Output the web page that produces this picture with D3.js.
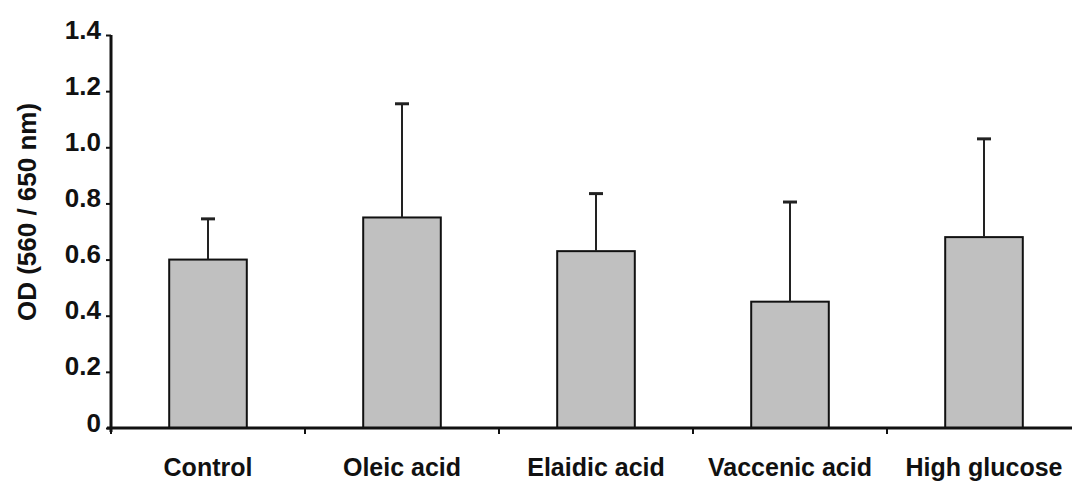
<!DOCTYPE html>
<html>
<head>
<meta charset="utf-8">
<script src="https://cdn.jsdelivr.net/npm/d3@7"></script>
<style>
  body { margin: 0; background: #fff; }
  text { font-family: "Liberation Sans", Arial, sans-serif; font-weight: bold; fill: #111; }
</style>
</head>
<body>
<div id="chart"></div>
<script>
// data
const groups = ["Control", "Oleic acid", "Elaidic acid", "Vaccenic acid", "High glucose"];
const means = [0.60, 0.75, 0.63, 0.45, 0.68];
const errors = [0.145, 0.405, 0.205, 0.355, 0.35];
const yTicks = [0, 0.2, 0.4, 0.6, 0.8, 1.0, 1.2, 1.4];
const yTickLabels = ["0", "0.2", "0.4", "0.6", "0.8", "1.0", "1.2", "1.4"];

const width = 1072, height = 486;
const x0 = 111, yBase = 428, yTop = 35;
const step = 194;

let svg = d3.select("#chart")
    .append("svg")
    .attr("width", width)
    .attr("height", height);

let x = d3.scaleBand()
    .domain(groups)
    .range([x0, x0 + step * groups.length])
    .paddingInner(0.6)
    .paddingOuter(0.3);

let y = d3.scaleLinear()
    .domain([0, 1.4])
    .range([yBase, yTop]);

// bars
svg.selectAll("rect.bar")
    .data(groups)
    .enter()
    .append("rect")
    .attr("class", "bar")
    .attr("x", d => x(d))
    .attr("y", (d, i) => y(means[i]))
    .attr("width", x.bandwidth())
    .attr("height", (d, i) => y(0) - y(means[i]))
    .attr("fill", "#c0c0c0")
    .attr("stroke", "#111")
    .attr("stroke-width", 2);

// error bars (upper only)
let err = svg.append("g").attr("stroke", "#222").attr("stroke-width", 2);
groups.forEach(function(g, i) {
    let cx = x(g) + x.bandwidth() / 2;
    err.append("line")
        .attr("x1", cx).attr("x2", cx)
        .attr("y1", y(means[i])).attr("y2", y(means[i] + errors[i]));
    err.append("line")
        .attr("x1", cx - 7).attr("x2", cx + 7)
        .attr("y1", y(means[i] + errors[i])).attr("y2", y(means[i] + errors[i]))
        .attr("stroke-width", 3);
});

// y axis
let yAxis = svg.append("g")
    .attr("transform", `translate(${x0}, 0)`)
    .call(d3.axisLeft(y).tickValues(yTicks).tickSize(5).tickPadding(5)
        .tickFormat((d, i) => yTickLabels[i]));
yAxis.select(".domain").attr("stroke", "#111").attr("stroke-width", 3)
    .attr("d", `M0,${yTop}V${yBase + 4}`);
yAxis.selectAll(".tick line").attr("stroke", "#111").attr("stroke-width", 2);
yAxis.selectAll(".tick text")
    .attr("font-size", 26)
    .attr("font-family", null)
    .attr("dy", "0.12em");

// x axis: ticks sit between the groups
let xAxis = svg.append("g")
    .attr("transform", `translate(0, ${yBase})`);
xAxis.append("line")
    .attr("x1", x0 - 4).attr("x2", width)
    .attr("stroke", "#111").attr("stroke-width", 3);
xAxis.selectAll("line.tick")
    .data(d3.range(groups.length))
    .enter()
    .append("line")
    .attr("class", "tick")
    .attr("x1", i => x0 + i * x.step()).attr("x2", i => x0 + i * x.step())
    .attr("y1", 0).attr("y2", 6)
    .attr("stroke", "#111").attr("stroke-width", 2);
xAxis.selectAll("text")
    .data(groups)
    .enter()
    .append("text")
    .attr("x", d => x(d) + x.bandwidth() / 2)
    .attr("y", 48)
    .attr("text-anchor", "middle")
    .attr("font-size", 25)
    .text(d => d);

// y axis title
svg.append("text")
    .attr("transform", `translate(36, 212) rotate(-90)`)
    .attr("text-anchor", "middle")
    .attr("font-size", 26)
    .text("OD (560 / 650 nm)");
</script>
</body>
</html>
